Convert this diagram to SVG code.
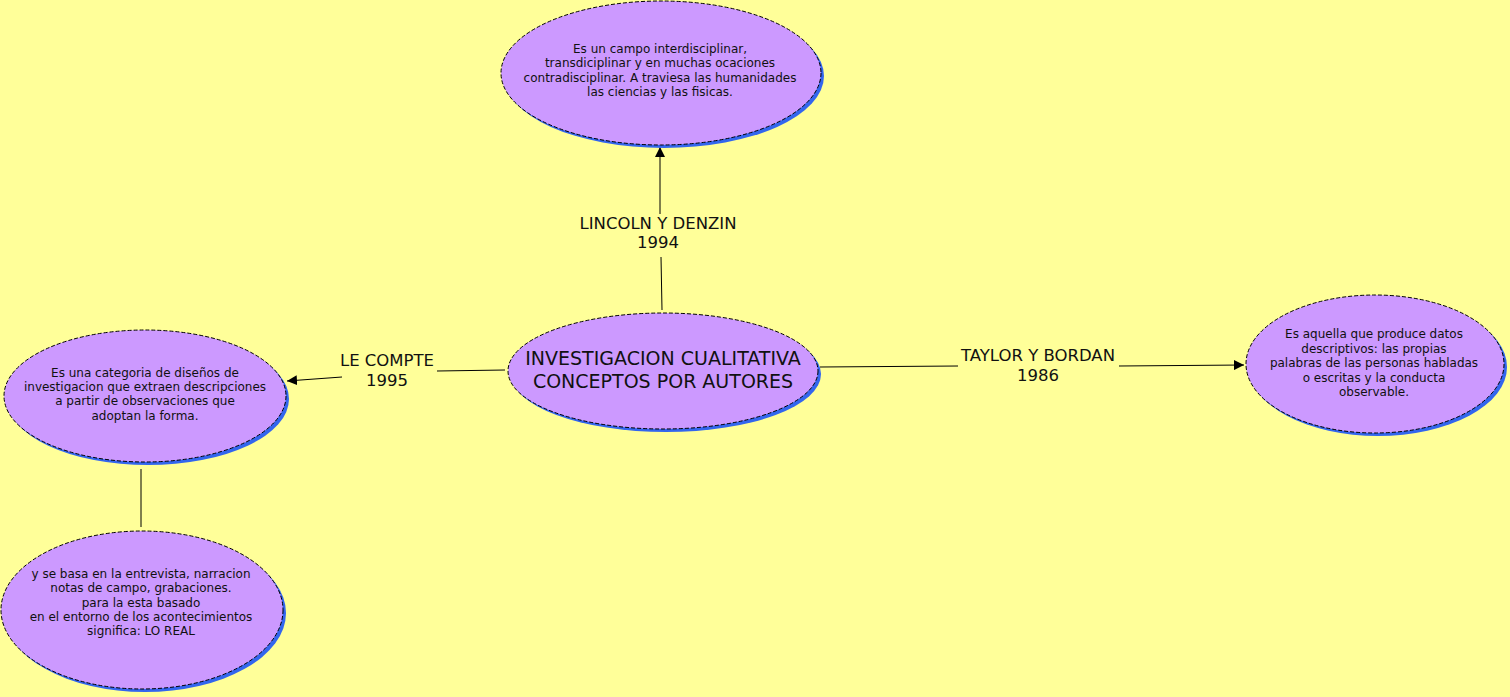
<svg xmlns="http://www.w3.org/2000/svg" width="1510" height="697" viewBox="0 0 1510 697">
<style>
.sh{fill:#3366EE}
.nd{fill:#CC99FF;stroke:#000;stroke-width:1;stroke-dasharray:4,2}
.t{font-family:"DejaVu Sans",Verdana,sans-serif;font-size:12px;fill:#111;text-anchor:middle}
.big{font-family:"DejaVu Sans",Verdana,sans-serif;font-size:19px;fill:#111;text-anchor:middle}
.lb{font-family:"DejaVu Sans",Verdana,sans-serif;font-size:16.5px;fill:#111;text-anchor:middle}
.c{stroke:#000;stroke-width:1;fill:none}
</style>
<defs>
<marker id="ar" viewBox="0 0 10 10" refX="10" refY="5" markerWidth="10" markerHeight="10" markerUnits="userSpaceOnUse" orient="auto">
<path d="M0,0 L10,5 L0,10 z" fill="#000"/>
</marker>
</defs>
<rect width="1510" height="697" fill="#FFFF99"/>
<g id="connectors">
<line class="c" x1="662" y1="310" x2="661" y2="257"/>
<line class="c" x1="660" y1="214" x2="660" y2="147" marker-end="url(#ar)"/>
<line class="c" x1="505" y1="370" x2="437" y2="371"/>
<line class="c" x1="342" y1="377" x2="287" y2="381" marker-end="url(#ar)"/>
<line class="c" x1="820" y1="367" x2="958" y2="366"/>
<line class="c" x1="1119" y1="366" x2="1244" y2="365" marker-end="url(#ar)"/>
<line class="c" x1="141" y1="469" x2="141" y2="527"/>
<text class="lb" x="658" y="229">LINCOLN Y DENZIN</text>
<text class="lb" x="658" y="248">1994</text>
<text class="lb" x="387" y="366">LE COMPTE</text>
<text class="lb" x="387" y="386">1995</text>
<text class="lb" x="1038" y="361">TAYLOR Y BORDAN</text>
<text class="lb" x="1038" y="381">1986</text>
</g>
<g id="n-top">
<ellipse class="sh" cx="664" cy="76" rx="160" ry="72"/>
<ellipse class="nd" cx="661" cy="73" rx="160" ry="72"/>
<text class="t" x="660" y="53">Es un campo interdisciplinar,</text>
<text class="t" x="660" y="67">transdiciplinar y en muchas ocaciones</text>
<text class="t" x="660" y="82">contradisciplinar. A traviesa las humanidades</text>
<text class="t" x="660" y="96">las ciencias y las fisicas.</text>
</g>
<g id="n-center">
<ellipse class="sh" cx="666" cy="374" rx="155" ry="58"/>
<ellipse class="nd" cx="663" cy="371" rx="155" ry="58"/>
<text class="big" x="663" y="365">INVESTIGACION CUALITATIVA</text>
<text class="big" x="663" y="388">CONCEPTOS POR AUTORES</text>
</g>
<g id="n-left">
<ellipse class="sh" cx="148" cy="399" rx="141" ry="66"/>
<ellipse class="nd" cx="145" cy="396" rx="141" ry="66"/>
<text class="t" x="145" y="377">Es una categoria de diseños de</text>
<text class="t" x="145" y="391">investigacion que extraen descripciones</text>
<text class="t" x="145" y="405">a partir de observaciones que</text>
<text class="t" x="145" y="420">adoptan la forma.</text>
</g>
<g id="n-bottom">
<ellipse class="sh" cx="145" cy="613" rx="141" ry="79"/>
<ellipse class="nd" cx="142" cy="610" rx="141" ry="79"/>
<text class="t" x="141" y="578">y se basa en la entrevista, narracion</text>
<text class="t" x="141" y="592">notas de campo, grabaciones.</text>
<text class="t" x="141" y="607">para la esta basado</text>
<text class="t" x="141" y="621">en el entorno de los acontecimientos</text>
<text class="t" x="141" y="635">significa: LO REAL</text>
</g>
<g id="n-right">
<ellipse class="sh" cx="1378" cy="367" rx="129" ry="69"/>
<ellipse class="nd" cx="1375" cy="364" rx="129" ry="69"/>
<text class="t" x="1374" y="338">Es aquella que produce datos</text>
<text class="t" x="1374" y="353">descriptivos: las propias</text>
<text class="t" x="1374" y="367">palabras de las personas habladas</text>
<text class="t" x="1374" y="382">o escritas y la conducta</text>
<text class="t" x="1374" y="396">observable.</text>
</g>
</svg>
